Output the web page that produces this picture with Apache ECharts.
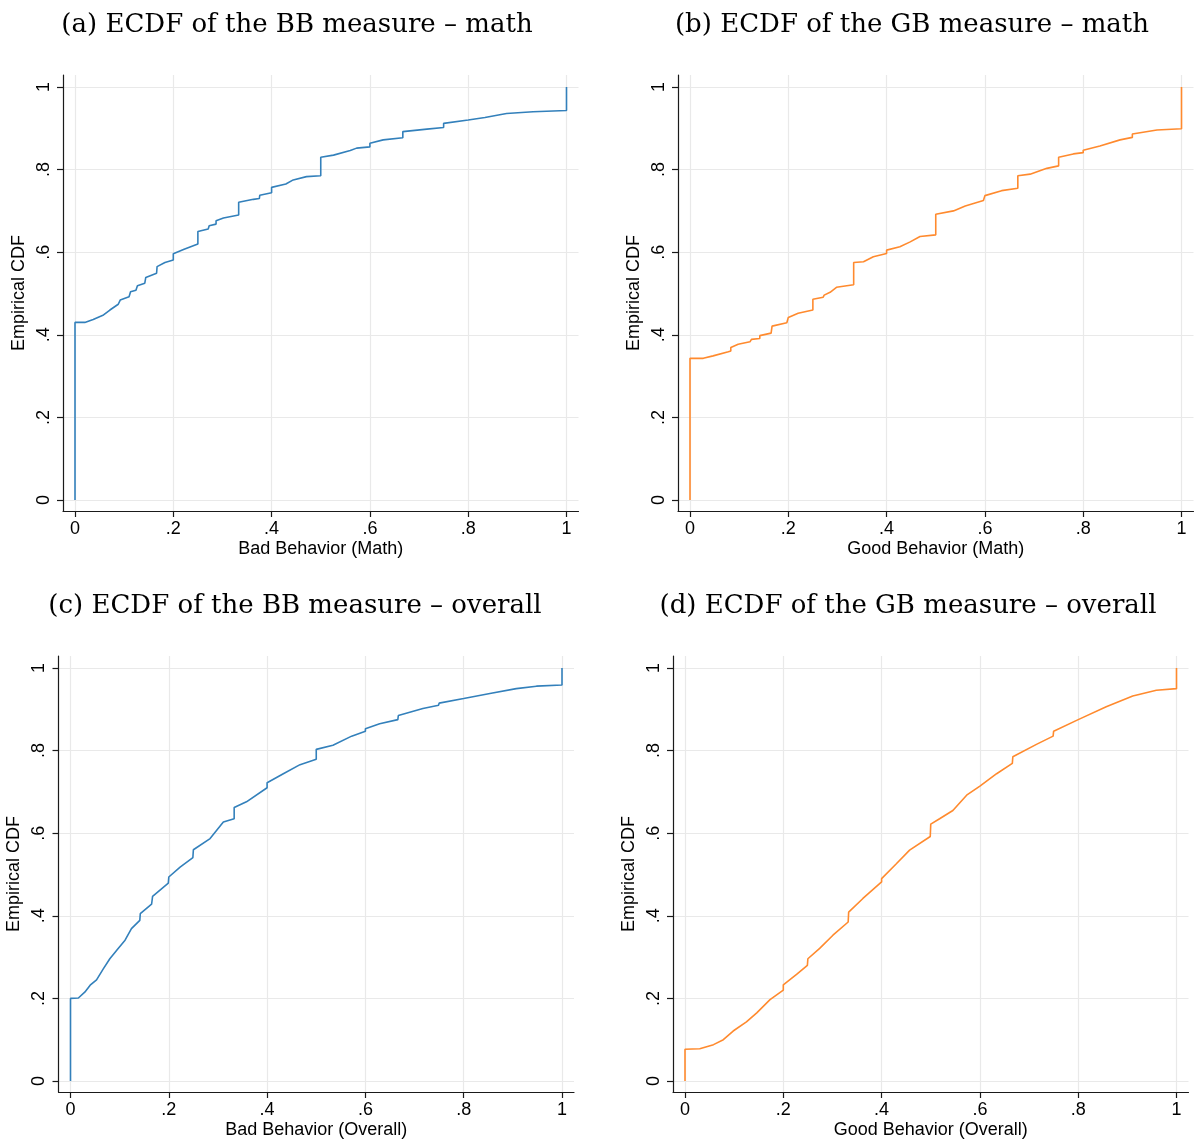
<!DOCTYPE html>
<html>
<head>
<meta charset="utf-8">
<title>ECDF of BB and GB measures</title>
<script src="https://cdn.jsdelivr.net/npm/echarts@6/dist/echarts.min.js"></script>
<style>
  html, body { margin: 0; padding: 0; background: #fff; }
  #container { width: 1198px; height: 1142px; }
</style>
</head>
<body>
<div id="container"></div>
<script>
// tick positions shared by all four panels
var xTicks = [0, 0.2, 0.4, 0.6, 0.8, 1];
var yTicks = [0, 0.2, 0.4, 0.6, 0.8, 1];

var panelTitles = [
    '(a) ECDF of the BB measure \u2013 math',
    '(b) ECDF of the GB measure \u2013 math',
    '(c) ECDF of the BB measure \u2013 overall',
    '(d) ECDF of the GB measure \u2013 overall'
];
var xNames = ['Bad Behavior (Math)', 'Good Behavior (Math)', 'Bad Behavior (Overall)', 'Good Behavior (Overall)'];
var yName = 'Empirical CDF';

// ECDF points: [value, cumulative share]
var bbMath = [[0,0],[0,0.43],[0.02,0.43],[0.037,0.437],[0.058,0.448],[0.071,0.46],[0.088,0.474],[0.092,0.476],[0.092,0.484],
    [0.11,0.492],[0.113,0.493],[0.113,0.504],[0.124,0.508],[0.127,0.509],[0.127,0.519],[0.142,0.525],[0.144,0.526],[0.144,0.539],
    [0.166,0.549],[0.167,0.55],[0.167,0.565],[0.183,0.575],[0.2,0.581],[0.2,0.596],[0.222,0.607],[0.25,0.62],[0.25,0.65],
    [0.271,0.656],[0.273,0.657],[0.273,0.664],[0.287,0.668],[0.287,0.676],[0.302,0.683],[0.333,0.69],[0.333,0.721],[0.363,0.728],
    [0.375,0.73],[0.376,0.738],[0.4,0.744],[0.4,0.757],[0.429,0.765],[0.444,0.775],[0.471,0.783],[0.5,0.785],[0.5,0.83],
    [0.526,0.835],[0.56,0.846],[0.573,0.852],[0.6,0.855],[0.6,0.864],[0.627,0.872],[0.667,0.877],[0.667,0.892],[0.716,0.898],
    [0.75,0.902],[0.75,0.912],[0.8,0.92],[0.834,0.926],[0.878,0.936],[0.932,0.94],[1,0.943],[1,1]];

var gbMath = [[0,0],[0,0.343],[0.027,0.343],[0.047,0.349],[0.078,0.359],[0.083,0.361],[0.083,0.369],[0.098,0.377],[0.122,0.383],
    [0.125,0.384],[0.125,0.389],[0.142,0.391],[0.142,0.398],[0.165,0.404],[0.167,0.405],[0.167,0.421],[0.197,0.429],[0.2,0.43],
    [0.2,0.442],[0.22,0.452],[0.25,0.46],[0.25,0.486],[0.271,0.491],[0.273,0.496],[0.285,0.503],[0.298,0.515],[0.333,0.521],
    [0.333,0.575],[0.353,0.577],[0.373,0.589],[0.4,0.597],[0.4,0.605],[0.427,0.613],[0.448,0.625],[0.468,0.638],[0.5,0.642],
    [0.5,0.692],[0.536,0.7],[0.56,0.712],[0.597,0.725],[0.6,0.726],[0.6,0.737],[0.634,0.749],[0.667,0.755],[0.667,0.785],
    [0.692,0.789],[0.726,0.803],[0.75,0.809],[0.75,0.83],[0.78,0.838],[0.8,0.841],[0.8,0.847],[0.834,0.857],[0.875,0.872],
    [0.9,0.878],[0.9,0.886],[0.95,0.896],[1,0.899],[1,1]];

var bbOverall = [[0,0],[0,0.2],[0.016,0.201],[0.029,0.215],[0.04,0.232],[0.053,0.245],[0.067,0.272],[0.08,0.296],[0.097,0.321],
    [0.111,0.341],[0.124,0.369],[0.141,0.389],[0.142,0.405],[0.165,0.428],[0.167,0.447],[0.199,0.479],[0.2,0.494],[0.223,0.518],
    [0.249,0.541],[0.25,0.56],[0.284,0.587],[0.311,0.627],[0.333,0.635],[0.333,0.662],[0.358,0.676],[0.4,0.71],[0.4,0.722],
    [0.433,0.744],[0.467,0.766],[0.5,0.779],[0.5,0.803],[0.534,0.813],[0.572,0.835],[0.6,0.847],[0.6,0.853],[0.629,0.865],
    [0.666,0.875],[0.667,0.885],[0.717,0.902],[0.749,0.91],[0.75,0.915],[0.8,0.926],[0.856,0.939],[0.907,0.95],[0.948,0.956],
    [1,0.959],[1,1]];

var gbOverall = [[0,0],[0,0.077],[0.03,0.078],[0.058,0.088],[0.078,0.1],[0.098,0.121],[0.125,0.143],[0.146,0.165],[0.173,0.197],
    [0.2,0.22],[0.2,0.233],[0.227,0.258],[0.249,0.28],[0.25,0.296],[0.274,0.321],[0.301,0.353],[0.332,0.385],[0.333,0.409],
    [0.362,0.442],[0.4,0.482],[0.4,0.49],[0.43,0.526],[0.457,0.559],[0.499,0.592],[0.5,0.622],[0.518,0.635],[0.545,0.655],
    [0.573,0.692],[0.6,0.714],[0.634,0.744],[0.666,0.769],[0.667,0.785],[0.715,0.815],[0.749,0.835],[0.75,0.847],[0.8,0.875],
    [0.857,0.906],[0.911,0.932],[0.959,0.946],[1,0.95],[1,1]];

var seriesData = [bbMath, gbMath, bbOverall, gbOverall];
var seriesColors = ['#3380bb', '#ff8a2e', '#3380bb', '#ff8a2e'];

/*==========================================
 * panel layout (plot region incl. Stata's margin round the data)
 */
var panels = [
    { left: 63,  top: 75,  tx: 292, ty: 7 },
    { left: 678, top: 75,  tx: 907, ty: 7 },
    { left: 58.5, top: 656, tx: 290, ty: 588 },
    { left: 673, top: 656, tx: 903, ty: 588 }
];
var plotW = 515.5, plotH = 436;
var xPad = 12 / 491.5;     // data 0..1 spans 491.5px
var yPadLo = 11 / 413, yPadHi = 12 / 413;

function tickFmt(v) {
    if (v === 0) return '0';
    if (v === 1) return '1';
    return String(v).replace(/^0/, '');
}

var grids = [], xAxes = [], yAxes = [], series = [], titles = [];
var sansFont = '"Liberation Sans", Arial, sans-serif';
var axisFont = { fontFamily: sansFont, fontSize: 18, color: '#000' };

for (var i = 0; i < 4; i++) {
    var p = panels[i];
    grids.push({ left: p.left, top: p.top, width: plotW, height: plotH, containLabel: false });

    titles.push({
        text: panelTitles[i],
        left: p.tx,
        top: p.ty,
        textAlign: 'center',
        textStyle: { fontFamily: '"DejaVu Serif", "Liberation Serif", serif', fontSize: 26, fontWeight: 'normal', color: '#000' }
    });

    xAxes.push({
        type: 'value',
        gridIndex: i,
        min: -xPad,
        max: 1 + xPad,
        name: xNames[i],
        nameLocation: 'middle',
        nameGap: 29,
        nameTextStyle: axisFont,
        axisLine: { show: true, onZero: false, lineStyle: { color: '#1a1a1a', width: 1.2 } },
        axisTick: { show: true, length: 6, customValues: xTicks, lineStyle: { color: '#1a1a1a', width: 1.2 } },
        axisLabel: { show: true, customValues: xTicks, formatter: tickFmt, margin: 9,
            fontFamily: sansFont, fontSize: 18, color: '#000' },
        splitLine: { show: true, lineStyle: { color: '#e9e9e9', width: 1.2 } }
    });

    yAxes.push({
        type: 'value',
        gridIndex: i,
        min: -yPadLo,
        max: 1 + yPadHi,
        name: yName,
        nameLocation: 'middle',
        nameGap: 35,
        nameTextStyle: axisFont,
        axisLine: { show: true, onZero: false, lineStyle: { color: '#1a1a1a', width: 1.2 } },
        axisTick: { show: true, length: 6, customValues: yTicks, lineStyle: { color: '#1a1a1a', width: 1.2 } },
        axisLabel: { show: true, customValues: yTicks, formatter: tickFmt, rotate: 90, margin: 10,
            fontFamily: sansFont, fontSize: 18, color: '#000' },
        splitLine: { show: true, lineStyle: { color: '#e9e9e9', width: 1.2 } }
    });

    series.push({
        type: 'line',
        xAxisIndex: i,
        yAxisIndex: i,
        data: seriesData[i],
        showSymbol: false,
        lineStyle: { color: seriesColors[i], width: 1.6 },
        itemStyle: { color: seriesColors[i] },
        silent: true
    });
}

var myChart = echarts.init(document.getElementById('container'), null, { renderer: 'canvas' });
myChart.setOption({
    backgroundColor: '#fff',
    animation: false,
    title: titles,
    grid: grids,
    xAxis: xAxes,
    yAxis: yAxes,
    series: series
});
</script>
</body>
</html>
